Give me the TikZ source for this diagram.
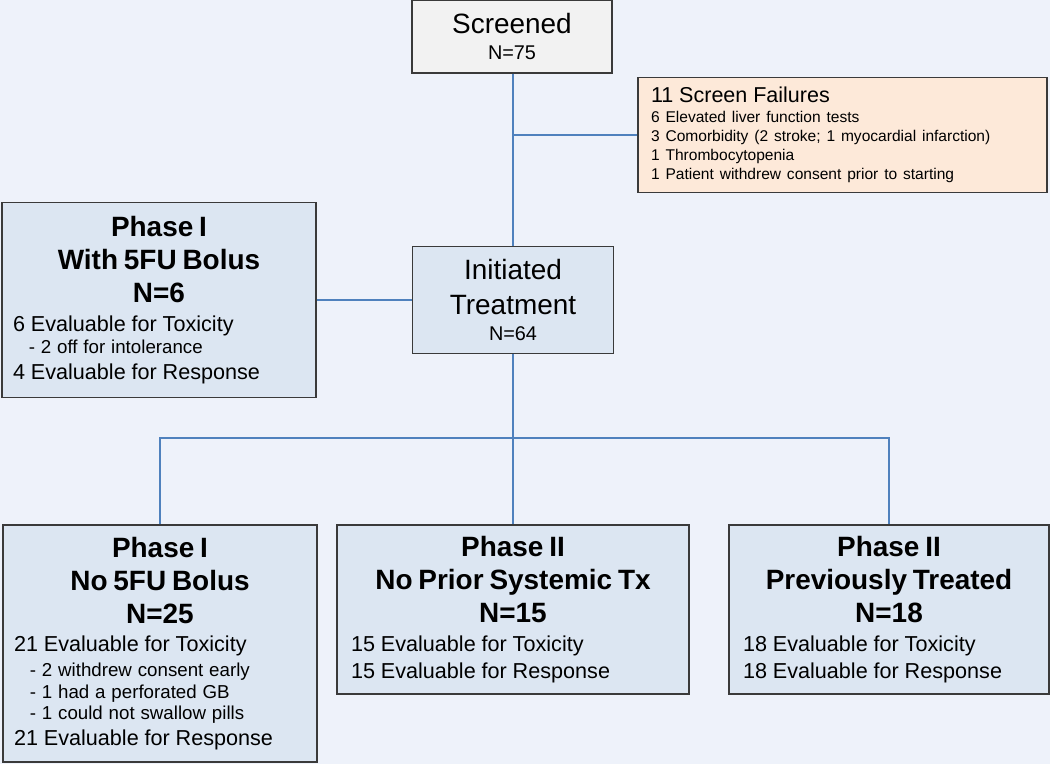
\documentclass[tikz,border=0pt]{standalone}
\usepackage{fontspec}
\setmainfont{Liberation Sans}
\usetikzlibrary{positioning}
\definecolor{pagebg}{HTML}{EEF2FA}
\definecolor{armfill}{HTML}{DCE6F2}
\definecolor{greyfill}{HTML}{F2F2F2}
\definecolor{failfill}{HTML}{FDE9D9}
\definecolor{linkblue}{HTML}{4F81BD}
\definecolor{boxline}{HTML}{3A3A3A}
\newcommand{\headtxt}{\fontsize{15.9}{18.7}\selectfont}
\newcommand{\bodytxt}{\fontsize{12.3}{14.6}\selectfont}
\newcommand{\subtxt}{\fontsize{10.65}{12.2}\selectfont}
\newcommand{\ntxt}{\fontsize{11.3}{13}\selectfont}
\newcommand{\tinytxt}{\fontsize{8.85}{10.9}\selectfont}

\begin{document}
\begin{tikzpicture}[x=0.02cm, y=-0.02cm,
  box/.style={draw=boxline, line width=0.75pt, fill=armfill, inner ysep=0pt},
  link/.style={draw=linkblue, line width=1.13pt}]
  %%%%% background %%%%%
  \fill[pagebg] (0,0) rectangle (1050,764);
  \useasboundingbox (0,0) rectangle (1050,764);

  %%%%% top %%%%%
  \node[box, fill=greyfill, minimum width=4cm, minimum height=1.46cm, inner xsep=0pt, text width=4cm] (scr) at (512,36.5)
    {\centering{\headtxt Screened\par}
     {\ntxt\vspace{2pt}N=75\par}};
  \node[box, fill=failfill, minimum width=8.18cm, minimum height=2.3cm, inner xsep=0.26cm, text width=7.66cm] (fail) at (842.5,135)
    {\fontsize{12.25}{14}\selectfont 11 Screen Failures\par
     {\tinytxt\vspace{0.5pt}
      6 Elevated liver function tests\par
      3 Comorbidity (2 stroke; 1 myocardial infarction)\par
      1 Thrombocytopenia\par
      1 Patient withdrew consent prior to starting\par}};

  %%%%% middle %%%%%
  \node[box, minimum width=4.02cm, minimum height=2.14cm, inner xsep=0pt, text width=4.02cm] (init) at (513,300)
    {\centering{\fontsize{15.9}{19.8}\selectfont Initiated\\Treatment\par}
     {\ntxt\vspace{1.8pt}N=64\par}};
  \node[box, minimum width=6.28cm, minimum height=3.9cm, inner xsep=0.22cm, text width=5.84cm] (p1b) at (159,300)
    {{\centering\headtxt\bfseries Phase I\\With 5FU Bolus\\N=6\par}
     \vspace{1.8pt}
     {\bodytxt 6 Evaluable for Toxicity\par}
     {\subtxt\vspace{0.6pt}\hspace*{9pt}- 2 off for intolerance\par}
     {\bodytxt 4 Evaluable for Response\par}};

  %%%%% bottom %%%%%
  \node[box, minimum width=6.28cm, minimum height=4.74cm, inner xsep=0.22cm, text width=5.84cm] (p1) at (160,643.5)
    {{\centering\headtxt\bfseries Phase I\\No 5FU Bolus\\N=25\par}
     \vspace{1.8pt}
     {\bodytxt 21 Evaluable for Toxicity\par}
     {\subtxt\vspace{2pt}
      \hspace*{9pt}- 2 withdrew consent early\par
      \hspace*{9pt}- 1 had a perforated GB\par
      \hspace*{9pt}- 1 could not swallow pills\par}
     {\bodytxt 21 Evaluable for Response\par}};
  \node[box, minimum width=7.04cm, minimum height=3.38cm, inner xsep=0.28cm, text width=6.48cm] (p2a) at (513,609.5)
    {{\centering\headtxt\bfseries Phase II\\No Prior Systemic Tx\\N=15\par}
     \vspace{1.3pt}
     {\fontsize{12.3}{15.3}\selectfont 15 Evaluable for Toxicity\\15 Evaluable for Response\par}};
  \node[box, minimum width=6.4cm, minimum height=3.38cm, inner xsep=0.28cm, text width=5.84cm] (p2b) at (889,609.5)
    {{\centering\headtxt\bfseries Phase II\\Previously Treated\\N=18\par}
     \vspace{1.3pt}
     {\fontsize{12.3}{15.3}\selectfont 18 Evaluable for Toxicity\\18 Evaluable for Response\par}};

  %%%%% connectors %%%%%
  \coordinate (split) at (init.south |- 0,438);
  \draw[link] (init.north |- scr.south) -- (init.north);
  \draw[link] (fail.west) -- (fail.west -| init.north);
  \draw[link] (p1b.east) -- (init.west);
  \draw[link] (init.south) -- (split);
  \draw[link] (p1.north) |- (split) -| (p2b.north);
  \draw[link] (split) -- (p2a.north);
\end{tikzpicture}
\end{document}
